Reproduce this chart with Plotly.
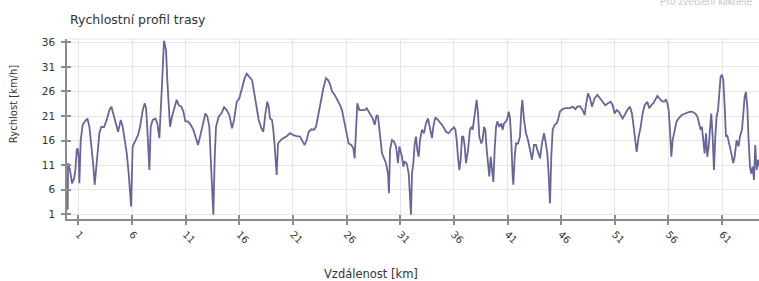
import plotly.graph_objects as go

# Distance along the route [km]
distance_km = [
    0.00, 0.04, 0.22, 0.41, 0.60, 0.72, 0.85, 0.94, 1.03, 1.09, 1.22, 1.40, 1.62, 1.84, 2.03,
    2.21, 2.40, 2.52, 2.71, 2.96, 3.14, 3.39, 3.64, 3.89, 4.08, 4.26, 4.51, 4.70, 4.95, 5.13,
    5.32, 5.51, 5.69, 5.91, 6.06, 6.31, 6.56, 6.75, 7.00, 7.18, 7.31, 7.43, 7.56, 7.62, 7.74,
    7.93, 8.18, 8.36, 8.55, 8.74, 8.86, 8.98, 9.17, 9.29, 9.42, 9.54, 9.73, 9.98, 10.16, 10.35,
    10.60, 10.79, 10.97, 11.22, 11.47, 11.72, 11.97, 12.15, 12.34, 12.59, 12.84, 13.02, 13.21,
    13.33, 13.46, 13.58, 13.71, 13.83, 14.08, 14.33, 14.58, 14.82, 15.07, 15.32, 15.51,
    15.76, 16.00, 16.25, 16.50, 16.69, 16.94, 17.19, 17.37, 17.56, 17.81, 18.06, 18.24, 18.43,
    18.61, 18.74, 18.86, 19.05, 19.17, 19.30, 19.42, 19.48, 19.61, 19.86, 20.11, 20.42, 20.73,
    21.04, 21.35, 21.66, 21.91, 22.09, 22.28, 22.47, 22.71, 22.96, 23.15, 23.34, 23.59, 23.83,
    24.08, 24.27, 24.45, 24.64, 24.89, 25.14, 25.39, 25.57, 25.76, 25.95, 26.19, 26.44, 26.63,
    26.75, 26.88, 27.00, 27.19, 27.44, 27.69, 27.87, 28.06, 28.25, 28.43, 28.62, 28.80, 28.93,
    29.05, 29.18, 29.30, 29.49, 29.67, 29.86, 29.95, 30.05, 30.23, 30.42, 30.61, 30.79, 30.92,
    31.16, 31.29, 31.41, 31.60, 31.79, 31.91, 32.00, 32.10, 32.22, 32.35, 32.47, 32.59, 32.72,
    32.84, 33.03, 33.22, 33.40, 33.59, 33.77, 33.96, 34.08, 34.27, 34.52, 34.77, 35.02, 35.27,
    35.51, 35.76, 36.01, 36.14, 36.26, 36.38, 36.51, 36.63, 36.76, 36.88, 37.01, 37.13, 37.32,
    37.50, 37.63, 37.75, 37.87, 38.00, 38.12, 38.25, 38.37, 38.56, 38.68, 38.81, 38.93, 39.06,
    39.18, 39.30, 39.43, 39.55, 39.68, 39.80, 39.93, 40.05, 40.24, 40.42, 40.55, 40.67, 40.86,
    40.98, 41.11, 41.23, 41.35, 41.48, 41.54, 41.67, 41.79, 41.98, 42.16, 42.29, 42.38, 42.54,
    42.72, 42.91, 43.03, 43.16, 43.28, 43.47, 43.65, 43.84, 44.03, 44.21, 44.40, 44.52, 44.71,
    44.83, 44.96, 45.08, 45.21, 45.39, 45.58, 45.70, 45.89, 46.14, 46.39, 46.70,
    46.82, 47.07, 47.32, 47.51, 47.75, 48.00, 48.19, 48.31, 48.50, 48.69, 48.87, 49.12, 49.37,
    49.62, 49.87, 50.11, 50.36, 50.61, 50.80, 50.98, 51.17, 51.36, 51.54, 51.73, 51.92, 52.16,
    52.41, 52.60, 52.79, 52.91, 53.04, 53.22, 53.41, 53.59, 53.78, 54.03, 54.21, 54.40, 54.59,
    54.77, 54.96, 55.15, 55.33, 55.58, 55.77, 55.89, 56.02, 56.14, 56.27, 56.39, 56.58, 56.76,
    57.01, 57.26, 57.57, 57.88, 58.19, 58.50, 58.69, 58.88, 59.00, 59.12, 59.25, 59.37, 59.50,
    59.62, 59.75, 59.87, 59.99, 60.12, 60.24, 60.37, 60.49, 60.62, 60.74, 60.86, 60.99, 61.11,
    61.24, 61.36, 61.48, 61.67, 61.86, 62.04, 62.17, 62.35, 62.54, 62.66, 62.85, 62.98, 63.10,
    63.22, 63.35, 63.47, 63.60, 63.72, 63.85, 63.97, 64.09, 64.22, 64.34, 64.44,
]

# Speed [km/h]
speed_kmh = [
    1.9, 11.4, 10.0, 7.3, 8.3, 10.0, 14.1, 14.4, 12.7, 7.3, 16.1, 19.2, 19.9, 20.5, 18.8,
    15.4, 10.7, 7.0, 11.4, 17.5, 18.8, 18.7, 20.2, 22.2, 22.9, 21.5, 19.2, 17.8, 20.2, 18.8,
    16.1, 13.4, 9.3, 2.6, 14.8, 16.1, 17.1, 18.8, 22.2, 23.6, 22.6, 18.2, 12.7, 10.0, 18.8,
    20.2, 20.5, 19.5, 16.5, 23.6, 30.4, 36.3, 34.4, 28.3, 21.5, 18.8, 20.9, 22.9, 24.3, 23.2,
    22.9, 21.9, 19.9, 19.9, 19.2, 18.2, 16.1, 15.1, 16.8, 19.5, 21.5, 20.9, 18.8,
    12.7, 6.6, 0.9, 12.7, 18.8, 20.9, 21.5, 22.8, 22.2, 21.2, 18.5, 20.2,
    23.9, 24.6, 26.6, 28.7, 29.6, 29.0, 28.3, 26.0, 23.2, 20.2, 18.5, 17.8, 21.5,
    23.9, 22.9, 20.5, 20.2, 18.2, 14.8, 11.4, 9.0, 15.4, 16.1, 16.5, 16.9, 17.5,
    17.1, 16.9, 16.8, 15.8, 15.1, 16.1, 17.8, 18.3, 18.2, 18.8, 21.2, 24.3, 26.6,
    28.7, 28.3, 27.5, 26.0, 25.3, 24.3, 23.2, 22.2, 20.2, 17.5, 15.4, 15.1, 14.4,
    12.4, 19.5, 23.6, 22.2, 22.2, 22.2, 22.6, 21.9, 21.2, 20.5, 19.2, 21.2, 20.9,
    18.2, 14.8, 13.4, 12.4, 11.4, 9.3, 5.3, 14.1, 16.1, 15.8, 14.8, 11.4, 14.8,
    12.7, 10.7, 11.7, 11.4, 9.3, 5.3, 0.9, 9.3, 11.4, 15.4, 16.8, 14.1, 12.7,
    16.1, 18.2, 17.5, 19.5, 20.5, 18.8, 16.5, 18.8, 20.7, 20.2, 19.5, 18.8, 17.8,
    17.5, 18.2, 18.7, 18.2, 16.1, 12.7, 10.0, 12.1, 16.8, 16.8, 14.8, 11.4, 14.1,
    18.2, 18.8, 18.2, 20.2, 21.5, 24.3, 21.5, 16.8, 15.4, 16.1, 18.8, 18.2, 14.1,
    11.4, 8.7, 12.7, 10.7, 7.6, 14.1, 18.8, 19.9, 18.8, 19.5, 18.2, 19.5, 19.9,
    20.5, 21.9, 20.5, 16.1, 8.7, 7.0, 12.7, 15.4, 15.4, 16.8, 22.2, 24.3, 20.2,
    17.5, 16.1, 14.8, 14.1, 12.1, 15.1, 15.1, 13.7, 12.4, 15.4, 17.5, 16.1, 13.4,
    9.3, 3.2, 12.7, 18.2, 19.2, 19.5, 20.2, 21.9, 22.4, 22.6, 22.6,
    22.6, 22.9, 22.4, 22.9, 23.0, 22.2, 21.2, 23.2, 25.6, 24.6, 22.9, 24.6, 25.3,
    24.6, 23.9, 23.2, 23.6, 23.9, 23.2, 21.5, 22.2, 21.9, 21.2, 20.5, 21.2, 22.2,
    22.9, 21.5, 18.2, 15.4, 13.7, 16.8, 18.8, 21.5, 23.2, 23.9, 22.6, 23.2, 23.6,
    24.3, 25.1, 24.6, 24.1, 23.9, 24.3, 23.7, 22.2, 18.2, 12.7, 16.1, 18.2, 19.9,
    20.7, 21.2, 21.5, 21.8, 21.9, 21.5, 20.9, 19.5, 18.2, 18.8, 16.1, 13.4, 17.5,
    12.7, 14.8, 19.5, 21.5, 16.8, 10.0, 16.8, 20.9, 22.2, 26.3, 29.0, 29.4, 28.3,
    22.9, 16.8, 17.1, 15.4, 13.4, 11.4, 12.7, 16.1, 14.8, 16.8, 18.2, 21.5, 24.9,
    25.9, 22.9, 16.1, 10.7, 9.3, 10.7, 8.0, 15.1, 10.0, 12.1, 10.7,
]

x_ticks = [1, 6, 11, 16, 21, 26, 31, 36, 41, 46, 51, 56, 61]
y_ticks = [1, 6, 11, 16, 21, 26, 31, 36]

chart_title = "Rychlostní profil trasy"
x_title = "Vzdálenost [km]"
y_title = "Rychlost [km/h]"
hint_text = "Pro zvětšení klikněte"

X_RANGE = [-0.06, 64.44]
Y_RANGE = [0.04, 36.67]
FONT = "DejaVu Sans"
AXIS_COLOR = "#8c8c8c"
GRID_COLOR = "#e6e6e6"

fig = go.Figure()
fig.add_trace(go.Scatter(
    x=distance_km, y=speed_kmh, mode="lines",
    line=dict(color="#66669a", width=1.8),
    showlegend=False, hoverinfo="x+y",
))
# invisible trace to host the inside-tick overlay axes
fig.add_trace(go.Scatter(x=[None], y=[None], xaxis="x2", yaxis="y2",
                         showlegend=False, hoverinfo="skip"))

fig.update_layout(
    width=759, height=281,
    margin=dict(l=67, r=0, t=39, b=62),
    paper_bgcolor="white", plot_bgcolor="white",
    font=dict(family=FONT, color="#333333"),
    xaxis=dict(
        range=X_RANGE, tickmode="array", tickvals=x_ticks,
        ticktext=[str(v) for v in x_ticks], tickangle=45,
        tickfont=dict(size=10, color="#333333"),
        showgrid=True, gridcolor=GRID_COLOR, gridwidth=1,
        showline=True, linecolor=AXIS_COLOR, linewidth=1.5,
        ticks="outside", ticklen=4, tickcolor=AXIS_COLOR, tickwidth=1.5,
        zeroline=False, fixedrange=True,
    ),
    yaxis=dict(
        range=Y_RANGE, tickmode="array", tickvals=y_ticks,
        ticktext=[str(v) for v in y_ticks],
        tickfont=dict(size=10.5, color="#333333"),
        showgrid=True, gridcolor=GRID_COLOR, gridwidth=1,
        showline=True, linecolor=AXIS_COLOR, linewidth=1.5,
        ticks="outside", ticklen=4, tickcolor=AXIS_COLOR, tickwidth=1.5,
        ticklabelstandoff=4,
        zeroline=False, fixedrange=True,
    ),
    xaxis2=dict(
        overlaying="x", anchor="y2", side="bottom", range=X_RANGE,
        tickmode="array", tickvals=x_ticks, showticklabels=False,
        ticks="inside", ticklen=4, tickcolor=AXIS_COLOR, tickwidth=1.5,
        showgrid=False, showline=False, zeroline=False, fixedrange=True,
    ),
    yaxis2=dict(
        overlaying="y", anchor="x2", side="left", range=Y_RANGE,
        tickmode="array", tickvals=y_ticks, showticklabels=False,
        ticks="inside", ticklen=4, tickcolor=AXIS_COLOR, tickwidth=1.5,
        showgrid=False, showline=False, zeroline=False, fixedrange=True,
    ),
    shapes=[dict(type="line", xref="paper", yref="paper", x0=0, x1=1, y0=1, y1=1,
                 line=dict(color=GRID_COLOR, width=1))],
    annotations=[
        dict(text=chart_title, xref="paper", yref="paper", x=0.001, y=1.107,
             xanchor="left", yanchor="middle", showarrow=False,
             font=dict(family=FONT, size=12.5, color="#333333")),
        dict(text=hint_text, xref="paper", yref="paper", x=0.994, y=1.167,
             xanchor="right", yanchor="bottom", showarrow=False,
             font=dict(family="Liberation Sans", size=10, color="#c8c8c8")),
        dict(text=y_title, xref="paper", yref="paper", x=-0.0775, y=0.64,
             xanchor="center", yanchor="middle", textangle=-90, showarrow=False,
             font=dict(family=FONT, size=10, color="#333333")),
        dict(text=x_title, xref="paper", yref="paper", x=0.44, y=-0.305,
             xanchor="center", yanchor="middle", showarrow=False,
             font=dict(family=FONT, size=11.5, color="#333333")),
    ],
)

fig.write_html(
    "out.html",
    config={"displayModeBar": False},
    post_script="document.body.style.margin='0px';document.body.style.overflow='hidden';",
)
